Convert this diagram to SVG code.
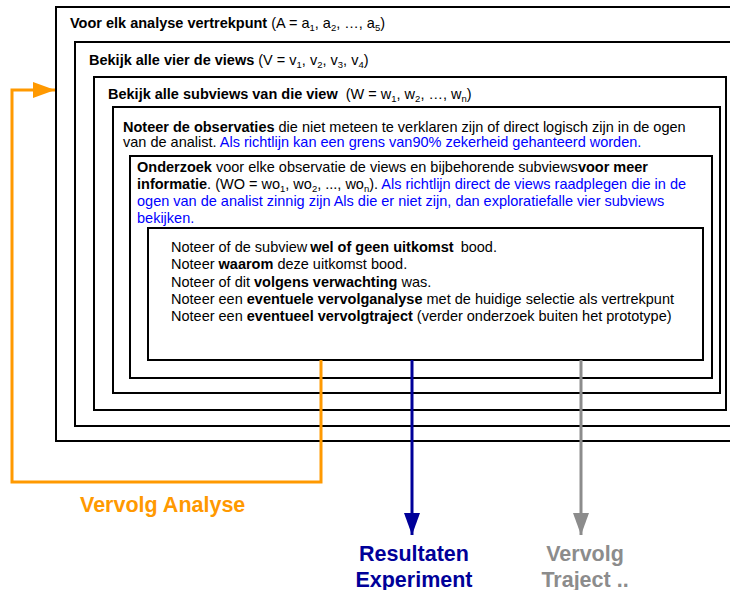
<svg xmlns="http://www.w3.org/2000/svg" width="730" height="590" viewBox="0 0 730 590">
  <style>
    .box { fill: #ffffff; stroke: #000000; stroke-width: 2; }
    .t { font-family: "Liberation Sans", Arial, sans-serif; font-size: 14.5px; fill: #000000; }
    .b { font-weight: bold; }
    .blue { fill: #0000ff; }
    .sub { font-size: 9.5px; }
    .lbl { font-family: "Liberation Sans", Arial, sans-serif; font-size: 21.5px; font-weight: bold; }
    .orange { fill: none; stroke: #ff9900; stroke-width: 3; }
    .navy { fill: none; stroke: #000099; stroke-width: 3; }
    .grey { fill: none; stroke: #8c8c8c; stroke-width: 3; }
  </style>
  <defs>
    <marker id="ahOrange" markerUnits="userSpaceOnUse" markerWidth="24" markerHeight="16" refX="22" refY="8" orient="auto">
      <path d="M0,0 L22,8 L0,16 Z" fill="#ff9900"/>
    </marker>
    <marker id="ahNavy" markerUnits="userSpaceOnUse" markerWidth="24" markerHeight="16" refX="22" refY="8" orient="auto">
      <path d="M0,0 L22,8 L0,16 Z" fill="#000099"/>
    </marker>
    <marker id="ahGrey" markerUnits="userSpaceOnUse" markerWidth="24" markerHeight="16" refX="22" refY="8" orient="auto">
      <path d="M0,0 L22,8 L0,16 Z" fill="#8c8c8c"/>
    </marker>
  </defs>
  <rect width="730" height="590" fill="#ffffff"/>

  <!-- nested loop boxes, outermost first -->
  <g id="vertrekpunt">
    <rect class="box" x="56" y="7" width="700" height="434"/>
    <text class="t" x="70" y="28"><tspan class="b">Voor elk analyse vertrekpunt</tspan> (A = a<tspan class="sub" dy="3">1</tspan><tspan dy="-3">, a</tspan><tspan class="sub" dy="3">2</tspan><tspan dy="-3">, …, a</tspan><tspan class="sub" dy="3">5</tspan><tspan dy="-3">)</tspan></text>
  </g>

  <g id="views">
    <rect class="box" x="75" y="42" width="680" height="384"/>
    <text class="t" x="89" y="65"><tspan class="b">Bekijk alle vier de views</tspan> (V = v<tspan class="sub" dy="3">1</tspan><tspan dy="-3">, v</tspan><tspan class="sub" dy="3">2</tspan><tspan dy="-3">, v</tspan><tspan class="sub" dy="3">3</tspan><tspan dy="-3">, v</tspan><tspan class="sub" dy="3">4</tspan><tspan dy="-3">)</tspan></text>
  </g>

  <g id="subviews">
    <rect class="box" x="94" y="77" width="632" height="333"/>
    <text class="t" x="108" y="99"><tspan class="b">Bekijk alle subviews van die view</tspan><tspan dx="4"> (W = w</tspan><tspan class="sub" dy="3">1</tspan><tspan dy="-3">, w</tspan><tspan class="sub" dy="3">2</tspan><tspan dy="-3">, …, w</tspan><tspan class="sub" dy="3">n</tspan><tspan dy="-3">)</tspan></text>
  </g>

  <g id="observaties">
    <rect class="box" x="113" y="107" width="607" height="286"/>
    <text class="t" x="123" y="132"><tspan class="b">Noteer de observaties</tspan> die niet meteen te verklaren zijn of direct logisch zijn in de ogen</text>
    <text class="t" x="123" y="147">van de analist. <tspan class="blue">Als richtlijn kan een grens van90% zekerheid gehanteerd worden.</tspan></text>
  </g>

  <g id="onderzoek">
    <rect class="box" x="130" y="156" width="582" height="222"/>
    <text class="t" x="137" y="172"><tspan class="b">Onderzoek</tspan> voor elke observatie de views en bijbehorende subviews<tspan class="b">voor meer</tspan></text>
    <text class="t" x="137" y="189"><tspan class="b">informatie</tspan>. (WO = wo<tspan class="sub" dy="3">1</tspan><tspan dy="-3">, wo</tspan><tspan class="sub" dy="3">2</tspan><tspan dy="-3">, ..., wo</tspan><tspan class="sub" dy="3">n</tspan><tspan dy="-3">). </tspan><tspan class="blue">Als richtlijn direct de views raadplegen die in de</tspan></text>
    <text class="t blue" x="137" y="206">ogen van de analist zinnig zijn Als die er niet zijn, dan exploratiefalle vier subviews</text>
    <text class="t blue" x="137" y="223">bekijken.</text>
  </g>

  <g id="uitkomst">
    <rect class="box" x="148" y="228" width="555" height="132"/>
    <text class="t" x="171" y="252">Noteer of de subview<tspan class="b" dx="3">wel of geen uitkomst</tspan><tspan dx="3"> bood.</tspan></text>
    <text class="t" x="171" y="269">Noteer <tspan class="b">waarom</tspan> deze uitkomst bood.</text>
    <text class="t" x="171" y="287">Noteer of dit <tspan class="b">volgens verwachting</tspan> was.</text>
    <text class="t" x="171" y="304">Noteer een <tspan class="b">eventuele vervolganalyse</tspan> met de huidige selectie als vertrekpunt</text>
    <text class="t" x="171" y="321">Noteer een <tspan class="b">eventueel vervolgtraject</tspan> (verder onderzoek buiten het prototype)</text>
  </g>

  <!-- outgoing flows -->
  <g id="connectors">
    <polyline class="orange" points="321,360 321,482 12,482 12,90 55,90" marker-end="url(#ahOrange)"/>
    <line class="navy" x1="412" y1="360" x2="412" y2="535" marker-end="url(#ahNavy)"/>
    <line class="grey" x1="581" y1="360" x2="581" y2="535" marker-end="url(#ahGrey)"/>
  </g>

  <g id="labels">
    <text class="lbl" x="80" y="512" fill="#ff9900">Vervolg Analyse</text>
    <text class="lbl" x="414" y="561" fill="#000099" text-anchor="middle">Resultaten</text>
    <text class="lbl" x="414" y="587" fill="#000099" text-anchor="middle">Experiment</text>
    <text class="lbl" x="585" y="561" fill="#8c8c8c" text-anchor="middle">Vervolg</text>
    <text class="lbl" x="585" y="587" fill="#8c8c8c" text-anchor="middle">Traject ..</text>
  </g>
</svg>
